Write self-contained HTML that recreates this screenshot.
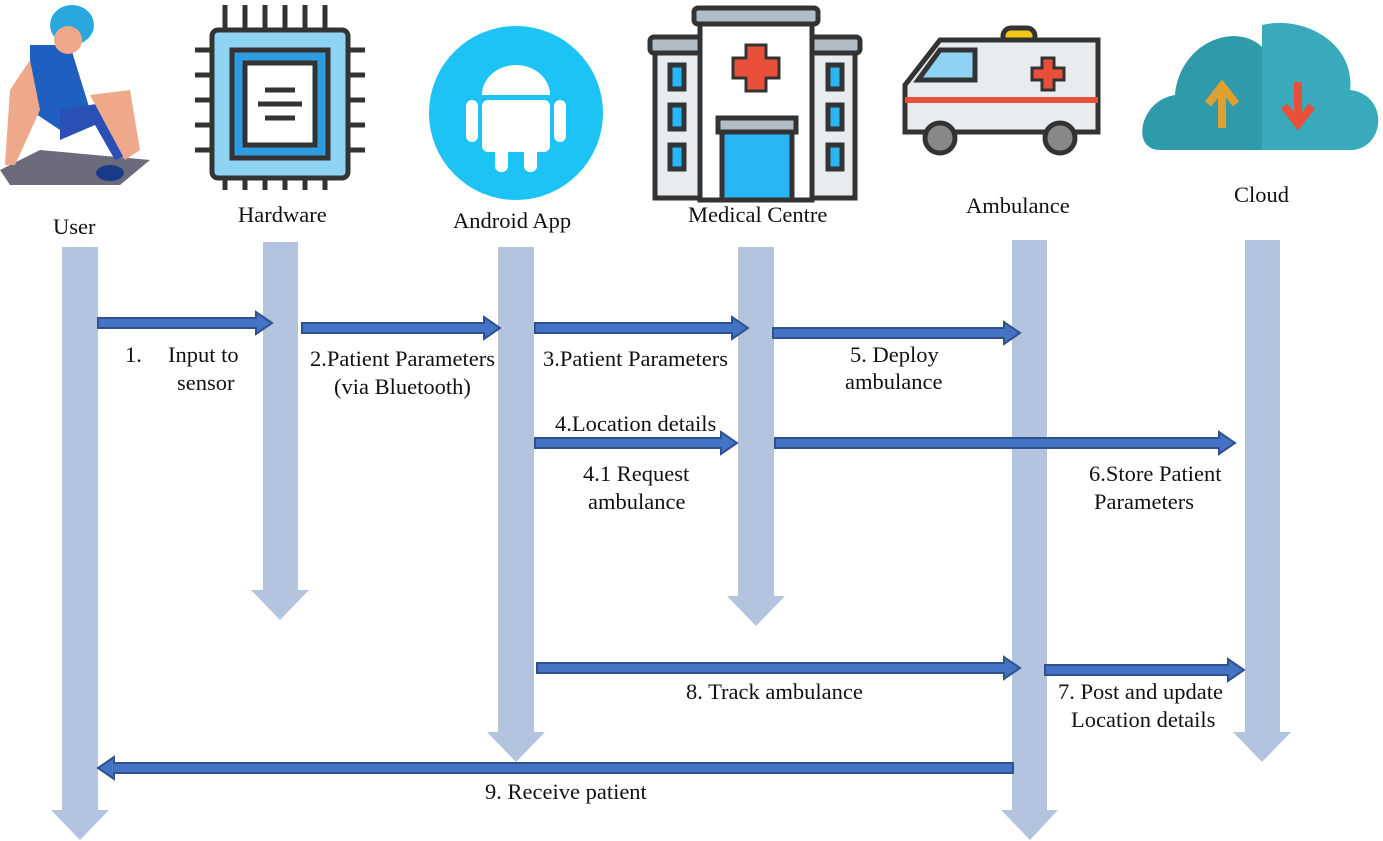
<!DOCTYPE html>
<html><head><meta charset="utf-8"><style>
body{margin:0;background:#fff}
svg{display:block}
text{font-family:"Liberation Serif",serif;font-size:22.5px;fill:#111}
</style></head><body>
<svg width="1383" height="841" viewBox="0 0 1383 841">
<g fill="#b4c3de">
<path d="M62 247H98V810H109L80 840L51 810H62Z"/>
<path d="M263 242H298V590H309L280 620L251 590H263Z"/>
<path d="M498 247H534V732H545L516 762L487 732H498Z"/>
<path d="M738 247H774V596H785L756 626L727 596H738Z"/>
<path d="M1012 240H1047V810H1058L1030 840L1001 810H1012Z"/>
<path d="M1245 240H1280V732H1291L1262 762L1233 732H1245Z"/>
</g>
<g fill="#4472c4" stroke="#2f528f" stroke-width="2">
<path d="M98 318H256V312L272 323L256 334V328H98Z"/>
<path d="M302 323H484V317L500 328L484 339V333H302Z"/>
<path d="M535 323H732V317L748 328L732 339V333H535Z"/>
<path d="M773 328H1004V322L1020 333L1004 344V338H773Z"/>
<path d="M535 438H721V432L737 443L721 454V448H535Z"/>
<path d="M775 438H1219V432L1235 443L1219 454V448H775Z"/>
<path d="M537 663H1004V657L1020 668L1004 679V673H537Z"/>
<path d="M1045 665H1228V659L1244 670L1228 681V675H1045Z"/>
<path d="M1013 763H114V757L98 768L114 779V773H1013Z"/>
</g>
<text x="53" y="234">User</text>
<text x="238" y="222">Hardware</text>
<text x="453" y="228">Android App</text>
<text x="688" y="222">Medical Centre</text>
<text x="966" y="213">Ambulance</text>
<text x="1234" y="202">Cloud</text>
<text x="125" y="362">1.</text><text x="168" y="362">Input to</text>
<text x="177" y="390">sensor</text>
<text x="310" y="366">2.Patient Parameters</text>
<text x="334" y="394">(via Bluetooth)</text>
<text x="543" y="366">3.Patient Parameters</text>
<text x="850" y="362">5. Deploy</text>
<text x="845" y="389">ambulance</text>
<text x="555" y="431">4.Location  details</text>
<text x="583" y="481">4.1 Request</text>
<text x="588" y="509">ambulance</text>
<text x="1089" y="481">6.Store Patient</text>
<text x="1094" y="509">Parameters</text>
<text x="686" y="699">8. Track ambulance</text>
<text x="1058" y="699">7. Post  and update</text>
<text x="1071" y="727">Location details</text>
<text x="485" y="799">9. Receive patient</text>
<g>
<path d="M0 170L40 150L150 160L120 185L10 185Z" fill="#6b6b7b"/>
<path d="M30 45L70 45L90 110L60 130L30 110Z" fill="#1f5fbf"/>
<path d="M60 110L120 100L140 150L115 160L95 125L60 140Z" fill="#2a4fb5"/>
<path d="M90 95L130 90L140 150L125 160Z" fill="#f0a88a"/>
<ellipse cx="72" cy="25" rx="22" ry="20" fill="#29a8e0"/>
<ellipse cx="68" cy="40" rx="14" ry="14" fill="#f0a88a"/>
<path d="M10 90L30 60L40 110L15 165L5 165Z" fill="#f0a88a"/>
<ellipse cx="110" cy="173" rx="14" ry="8" fill="#1a3a8a"/>
</g>
<g>
<g stroke="#333" stroke-width="5">
<path d="M225 30V5M245 30V5M265 30V5M285 30V5M305 30V5M325 30V5"/>
<path d="M225 175V190M245 175V190M265 175V190M285 175V190M305 175V190M325 175V190"/>
<path d="M215 50H195M215 75H195M215 100H195M215 125H195M215 150H195"/>
<path d="M345 50H365M345 75H365M345 100H365M345 125H365M345 150H365"/>
</g>
<rect x="212" y="30" width="136" height="148" rx="6" fill="#8fd3f4" stroke="#333" stroke-width="5"/>
<rect x="232" y="50" width="96" height="108" fill="#2f9ce0" stroke="#333" stroke-width="5"/>
<rect x="245" y="63" width="70" height="82" fill="#fff" stroke="#333" stroke-width="5"/>
<path d="M265 90H295M258 104H302M265 118H295" stroke="#333" stroke-width="5"/>
</g>
<circle cx="516" cy="113" r="87" fill="#1ec3f5"/>
<g fill="#fff">
<path d="M482 95A34 30 0 0 1 550 95Z"/>
<rect x="482" y="100" width="68" height="52" rx="6"/>
<rect x="466" y="100" width="12" height="42" rx="6"/>
<rect x="554" y="100" width="12" height="42" rx="6"/>
<rect x="495" y="140" width="13" height="32" rx="6"/>
<rect x="524" y="140" width="13" height="32" rx="6"/>
</g>
<g stroke="#333" stroke-width="5">
<rect x="655" y="50" width="200" height="148" fill="#e9ecef"/>
<rect x="650" y="37" width="210" height="16" rx="4" fill="#b0bcc6"/>
<rect x="700" y="20" width="112" height="180" fill="#fff"/>
<rect x="694" y="8" width="124" height="16" rx="4" fill="#b0bcc6"/>
<rect x="722" y="120" width="70" height="80" fill="#29b6f6"/>
<rect x="718" y="118" width="78" height="14" fill="#b0bcc6"/>
<rect x="670" y="65" width="14" height="24" fill="#29b6f6"/>
<rect x="670" y="105" width="14" height="24" fill="#29b6f6"/>
<rect x="670" y="145" width="14" height="24" fill="#29b6f6"/>
<rect x="828" y="65" width="14" height="24" fill="#29b6f6"/>
<rect x="828" y="105" width="14" height="24" fill="#29b6f6"/>
<rect x="828" y="145" width="14" height="24" fill="#29b6f6"/>
</g>
<path d="M746 45H766V58H779V78H766V91H746V78H733V58H746Z" fill="#e8503a" stroke="#333" stroke-width="3"/>
<g stroke="#333" stroke-width="5">
<rect x="1003" y="28" width="32" height="16" rx="8" fill="#f5c518"/>
<path d="M905 85L940 40H1098V132H905Z" fill="#e9ecef"/>
<path d="M940 50H975V80H918Z" fill="#8fd3f4"/>
<path d="M905 100H1098" stroke="#e8503a" stroke-width="6"/>
<circle cx="940" cy="138" r="15" fill="#888"/>
<circle cx="1060" cy="138" r="15" fill="#888"/>
</g>
<path d="M1042 58H1054V68H1064V80H1054V90H1042V80H1032V68H1042Z" fill="#e8503a" stroke="#333" stroke-width="3"/>
<path d="M1160 150C1130 150 1140 100 1175 95C1180 40 1240 20 1265 50C1300 15 1355 40 1350 90C1390 95 1385 150 1350 150Z" fill="#2e9aaa"/>
<path d="M1262 25C1300 15 1355 40 1350 90C1390 95 1385 150 1350 150H1262Z" fill="#38aabb"/>
<path d="M1222 128V90M1208 104L1222 86L1236 104" stroke="#e0a030" stroke-width="8" fill="none"/>
<path d="M1298 82V120M1284 106L1298 124L1312 106" stroke="#e8503a" stroke-width="8" fill="none"/>
</svg>
</body></html>
